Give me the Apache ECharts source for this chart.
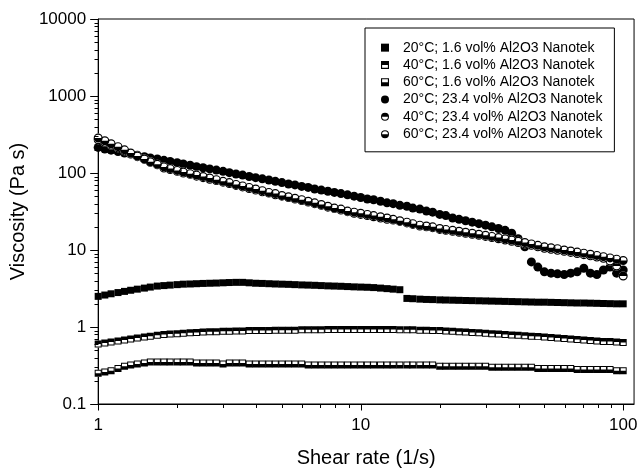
<!DOCTYPE html>
<html><head><meta charset="utf-8">
<script src="https://cdn.jsdelivr.net/npm/echarts@6/dist/echarts.min.js"></script>
<style>html,body{margin:0;padding:0;background:#fff}#c{width:640px;height:473px}</style>
</head><body><div id="c"></div>
<script>
const shearRate = [1, 1.06, 1.12, 1.19, 1.26, 1.33, 1.41, 1.5, 1.58, 1.68, 1.78, 1.88, 2, 2.11, 2.24, 2.37, 2.51, 2.66, 2.82, 2.99, 3.16, 3.35, 3.55, 3.76, 3.98, 4.22, 4.47, 4.73, 5.01, 5.31, 5.62, 5.96, 6.31, 6.68, 7.08, 7.5, 7.94, 8.41, 8.91, 9.44, 10, 10.6, 11.2, 11.9, 12.6, 13.3, 14.1, 15, 15.8, 16.8, 17.8, 18.8, 20, 21.1, 22.4, 23.7, 25.1, 26.6, 28.2, 29.9, 31.6, 33.5, 35.5, 37.6, 39.8, 42.2, 44.7, 47.3, 50.1, 53.1, 56.2, 59.6, 63.1, 66.8, 70.8, 75, 79.4, 84.1, 89.1, 94.4, 100];

const visc20Low = [2.5, 2.6, 2.7, 2.8, 2.9, 3.0, 3.1, 3.2, 3.3, 3.4, 3.45, 3.5, 3.55,
  3.6, 3.62, 3.65, 3.68, 3.7, 3.72, 3.75, 3.78, 3.8, 3.8, 3.75, 3.7,
  3.68, 3.65, 3.62, 3.6, 3.58, 3.55, 3.52, 3.5, 3.48, 3.45, 3.42, 3.4, 3.38, 3.35, 3.32, 3.3,
  3.28, 3.25, 3.2, 3.15, 3.1, 3.05,
  2.35, 2.33, 2.3, 2.28, 2.27, 2.25, 2.24, 2.23, 2.22, 2.21, 2.2, 2.19, 2.18, 2.17, 2.16, 2.15, 2.14, 2.13, 2.12, 2.11, 2.1, 2.1, 2.09, 2.08, 2.07, 2.06, 2.05, 2.05, 2.04, 2.03, 2.02, 2.01, 2.0, 2.0];

const visc40Low = [0.6, 0.62, 0.64, 0.66, 0.68, 0.7, 0.72, 0.74, 0.76, 0.78, 0.8, 0.81, 0.82,
  0.83, 0.84, 0.85, 0.86, 0.87, 0.87, 0.88, 0.88, 0.89, 0.89, 0.9, 0.9,
  0.9, 0.9, 0.91, 0.91, 0.91, 0.91, 0.92, 0.92, 0.92, 0.92, 0.93, 0.93, 0.93, 0.93, 0.93, 0.93,
  0.93, 0.93, 0.93, 0.93, 0.93, 0.92, 0.92, 0.92, 0.91, 0.91, 0.9, 0.9,
  0.89, 0.88, 0.87, 0.86, 0.85, 0.84, 0.83, 0.82, 0.81, 0.8, 0.79, 0.78, 0.77, 0.76, 0.75, 0.74, 0.73, 0.72, 0.71, 0.7, 0.69, 0.68, 0.67, 0.66, 0.65, 0.65, 0.64, 0.63];

const visc60Low = [0.25, 0.26, 0.27, 0.29, 0.31, 0.32, 0.33, 0.34, 0.35, 0.35, 0.35, 0.35, 0.35,
  0.35, 0.35, 0.34, 0.34, 0.34, 0.34, 0.33, 0.34, 0.34, 0.34, 0.33, 0.33,
  0.33, 0.33, 0.33, 0.33, 0.33, 0.33, 0.33, 0.32, 0.32, 0.32, 0.32, 0.32, 0.32, 0.32, 0.32, 0.32,
  0.32, 0.32, 0.32, 0.32, 0.32, 0.32, 0.32, 0.32, 0.32, 0.32, 0.32, 0.31,
  0.31, 0.31, 0.31, 0.31, 0.31, 0.31, 0.31,
  0.3, 0.3, 0.3, 0.3, 0.3, 0.3, 0.3,
  0.29, 0.29, 0.29, 0.29, 0.29, 0.29,
  0.28, 0.28, 0.28, 0.28, 0.28, 0.28,
  0.27, 0.27];

const visc20High = [215, 205, 198, 190, 182, 176, 170, 163, 157, 152,
  146, 141, 136, 131, 126, 121, 117, 113, 109, 105,
  101, 97, 94, 90, 87, 84, 81, 78, 75, 72,
  70, 67, 65, 62, 60, 58, 56, 54, 52, 50,
  48, 46, 45, 43, 41, 40, 38, 37, 35, 34,
  32, 31, 29, 28, 26, 25, 24, 23, 22, 21,
  20, 19, 18, 16.5, 14, 11, 7.0, 6.0, 5.2, 5.0,
  4.9, 4.8, 5.0, 5.2, 5.8, 5.0, 4.8, 5.5, 6.0, 5.0,
  5.5];

const visc40High = [270, 250, 230, 212, 194, 178, 163, 150, 138, 128,
  116, 111, 105, 100, 96, 91, 87, 83, 80, 76,
  73, 69, 66, 63, 60, 57, 55, 52, 50, 48,
  46, 44, 42, 40, 38, 36, 34.5, 33, 31.5, 30,
  29, 28, 27, 26, 25, 24.5, 23.5, 22.5, 21.5, 20.5,
  20, 19.5, 18.5, 18, 17.5, 17, 16.5, 16, 15.5, 15,
  14.5, 14, 13.5, 13, 12.5, 12, 11.5, 11, 10.5, 10.2,
  9.9, 9.6, 9.3, 9, 8.7, 8.4, 8.1, 7.8, 7.2, 6.2,
  4.6];

const visc60High = [285, 262, 240, 220, 200, 182, 166, 152, 140, 130,
  120, 114, 108, 103, 98, 94, 90, 86, 82, 78,
  75, 71, 68, 65, 62, 59, 56, 54, 51, 49,
  47, 45, 43, 41, 39, 37, 35, 34, 32, 31,
  30, 29, 28, 27, 26, 25, 24, 23, 22, 21,
  20.5, 20, 19, 18.5, 18, 17.5, 17, 16.5, 16, 15.5,
  15, 14.5, 14, 13.5, 13, 12.5, 12, 11.5, 11, 10.7,
  10.4, 10, 9.7, 9.4, 9.1, 8.8, 8.5, 8.2, 7.9, 7.6,
  7.3];

const legendNames = [
  '20°C; 1.6 vol% Al2O3 Nanotek',
  '40°C; 1.6 vol% Al2O3 Nanotek',
  '60°C; 1.6 vol% Al2O3 Nanotek',
  '20°C; 23.4 vol% Al2O3 Nanotek',
  '40°C; 23.4 vol% Al2O3 Nanotek',
  '60°C; 23.4 vol% Al2O3 Nanotek'
];
const xAxisTitle = 'Shear rate (1/s)';
const yAxisTitle = 'Viscosity (Pa s)';
const xMajorTicks = [1, 10, 100];
const xMinorTicks = [2, 3, 4, 5, 6, 7, 8, 9, 20, 30, 40, 50, 60, 70, 80, 90];
const yMinorTicks = [0.2, 0.3, 0.4, 0.5, 0.6, 0.7, 0.8, 0.9, 2, 3, 4, 5, 6, 7, 8, 9, 20, 30, 40, 50, 60, 70, 80, 90,
  200, 300, 400, 500, 600, 700, 800, 900, 2000, 3000, 4000, 5000, 6000, 7000, 8000, 9000];

const FONT = "'Liberation Sans', Arial, sans-serif";
function pairs(ys) { return shearRate.map((x, i) => [x, ys[i]]); }

const sqTopBlack = 'path://M0 0H10V10H0Z M1.4 5V8.6H8.6V5Z';
const sqBottomBlack = 'path://M0 0H10V10H0Z M1.4 1.4V5H8.6V1.4Z';
const cirTopBlack = 'path://M0 5A5 5 0 1 1 10 5A5 5 0 1 1 0 5Z M1.3 5A3.7 3.7 0 0 0 8.7 5Z';
const cirBottomBlack = 'path://M0 5A5 5 0 1 1 10 5A5 5 0 1 1 0 5Z M8.7 5A3.7 3.7 0 0 0 1.3 5Z';

const SQ = [7, 7];
const CI = 9;

function pts(name, ys, symbol, size, color) {
  return { type: 'scatter', name: name, data: pairs(ys), symbol: symbol, symbolSize: size,
    itemStyle: { color: color, opacity: 1 }, emphasis: { disabled: true }, silent: true, animation: false };
}

function tickSeries(data, dir, len) {
  return {
    type: 'custom', silent: true, clip: false, z: 10, animation: false,
    data: data,
    renderItem: function (params, api) {
      const p = api.coord([api.value(0), api.value(1)]);
      let x = Math.round(p[0]) + 0.5, y = Math.round(p[1]) + 0.5;
      const shape = dir === 'down' ? { x1: x, y1: y, x2: x, y2: y + len } : { x1: x, y1: y, x2: x - len, y2: y };
      return { type: 'line', shape: shape, style: { stroke: '#000', lineWidth: 1 } };
    }
  };
}

function powLabel(v) {
  const l = Math.log10(v);
  return Math.abs(l - Math.round(l)) < 1e-6 ? String(+Number(v).toPrecision(6)) : '';
}

const chart = echarts.init(document.getElementById('c'), null, { renderer: 'canvas' });
chart.setOption({
  animation: false,
  backgroundColor: '#fff',
  grid: { left: 80, right: 4, top: 19, bottom: 64, show: true, borderColor: '#000', borderWidth: 1 },
  legend: {
    orient: 'vertical', left: 365, top: 28,
    data: legendNames.map(n => ({ name: n })),
    itemWidth: 8, itemHeight: 8, itemGap: 0,
    padding: [11, 12, 9, 16],
    borderColor: '#000', borderWidth: 1, borderRadius: 0,
    selectedMode: false,
    textStyle: { fontFamily: FONT, fontSize: 14, color: '#000', lineHeight: 17.3, padding: [0, 0, 0, 9] }
  },
  xAxis: {
    type: 'log', logBase: 10, min: 1, max: 110,
    name: xAxisTitle, nameLocation: 'middle', nameGap: 44,
    nameTextStyle: { fontFamily: FONT, fontSize: 20, color: '#000' },
    axisLine: { lineStyle: { color: '#000', width: 1 } },
    axisTick: { show: false },
    splitLine: { show: false },
    axisLabel: { fontFamily: FONT, fontSize: 17, color: '#000', margin: 13, formatter: powLabel }
  },
  yAxis: {
    type: 'log', logBase: 10, min: 0.1, max: 10000,
    name: yAxisTitle, nameLocation: 'middle', nameGap: 50,
    nameTextStyle: { fontFamily: FONT, fontSize: 20, color: '#000' },
    axisLine: { lineStyle: { color: '#000', width: 1 } },
    axisTick: { show: true, length: 8, inside: false, lineStyle: { color: '#000', width: 1 } },
    splitLine: { show: false },
    axisLabel: { fontFamily: FONT, fontSize: 17, color: '#000', margin: 12, formatter: powLabel }
  },
  series: [
    pts(legendNames[0], visc20Low, 'rect', SQ, '#000'),
    pts('bg40low', visc40Low, 'rect', SQ, '#fff'),
    pts(legendNames[1], visc40Low, sqTopBlack, SQ, '#000'),
    pts('bg60low', visc60Low, 'rect', SQ, '#fff'),
    pts(legendNames[2], visc60Low, sqBottomBlack, SQ, '#000'),
    pts(legendNames[3], visc20High, 'circle', CI, '#000'),
    pts('bg40high', visc40High, 'circle', CI, '#fff'),
    pts(legendNames[4], visc40High, cirTopBlack, CI, '#000'),
    pts('bg60high', visc60High, 'circle', CI, '#fff'),
    pts(legendNames[5], visc60High, cirBottomBlack, CI, '#000'),
    tickSeries(xMajorTicks.map(v => [v, 0.1]), 'down', 6),
    tickSeries(xMinorTicks.map(v => [v, 0.1]), 'down', 3.5),
    tickSeries(yMinorTicks.map(v => [1, v]), 'left', 4)
  ]
});
</script>
</body></html>
